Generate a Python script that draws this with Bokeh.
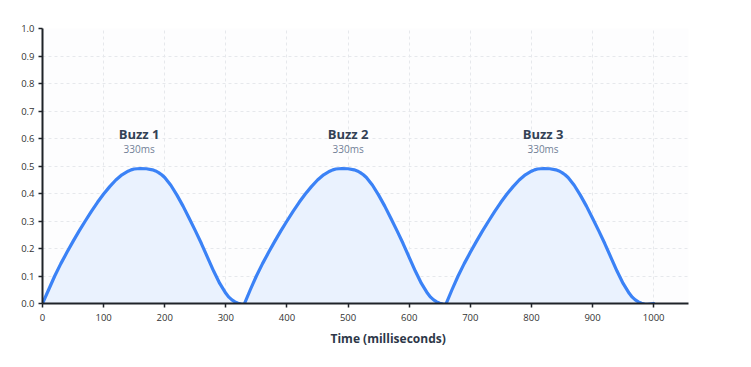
from bokeh.plotting import figure
from bokeh.models import Range1d, FixedTicker, Title, ColumnDataSource, NumeralTickFormatter
from bokeh.core.properties import value
from bokeh.embed import file_html
from bokeh.resources import INLINE

# ---- data ----
buzz_names = ["Buzz 1", "Buzz 2", "Buzz 3"]
buzz_durations = ["330ms", "330ms", "330ms"]
buzz_starts = [0, 330, 660]
buzz_label_x = [158, 500, 819]

# one buzz envelope (ms offset -> amplitude)
profile_t = [0, 10, 20, 30, 40, 50, 60, 70, 80, 90, 100, 110, 120, 130, 140, 145, 150,
             160, 170, 180, 185, 190, 195, 200, 210, 220, 230, 240, 250, 260, 270, 280,
             290, 300, 305, 310, 315, 320, 325, 330]
profile_v = [0.0, 0.05, 0.10, 0.145, 0.186, 0.226, 0.264, 0.30, 0.335, 0.368, 0.398,
             0.425, 0.449, 0.468, 0.481, 0.486, 0.489, 0.491, 0.49, 0.486, 0.482, 0.476,
             0.468, 0.458, 0.43, 0.394, 0.354, 0.31, 0.265, 0.218, 0.168, 0.118, 0.073,
             0.037, 0.023, 0.013, 0.006, 0.001, -0.002, -0.003]
tail_t = [1000]
tail_v = [0.0]

x_ticks = [0, 100, 200, 300, 400, 500, 600, 700, 800, 900, 1000]
y_ticks = [0.0, 0.1, 0.2, 0.3, 0.4, 0.5, 0.6, 0.7, 0.8, 0.9, 1.0]
x_title = "Time (milliseconds)"

# ---- build series ----
ts, vs = [], []
for s in buzz_starts:
    for t, v in zip(profile_t, profile_v):
        if ts and s + t <= ts[-1]:
            continue
        ts.append(s + t)
        vs.append(v)
ts += tail_t
vs += tail_v
src = ColumnDataSource(dict(t=ts, v=vs))

FONT = "Open Sans"

p = figure(width=735, height=351, output_backend="svg", toolbar_location=None,
           x_range=Range1d(0, 1057), y_range=Range1d(0, 1.0),
           min_border_left=42, min_border_right=47, min_border_top=28,
           min_border_bottom=48)
p.outline_line_color = None
p.background_fill_color = "#fdfdfe"
p.border_fill_color = "#ffffff"

p.varea(x="t", y1=0, y2="v", source=src, fill_color="#eaf2fe", fill_alpha=1.0)
p.line(x="t", y="v", source=src, line_color="#3b82f6", line_width=3.2,
       line_join="round", line_cap="round")

lab = ColumnDataSource(dict(x=buzz_label_x, name=buzz_names, dur=buzz_durations,
                            y1=[0.618] * 3, y2=[0.561] * 3))
p.text(x="x", y="y1", text="name", source=lab, text_align="center",
       text_baseline="alphabetic", text_font=value(FONT), text_font_size="13px",
       text_font_style="bold", text_color="#334155")
p.text(x="x", y="y2", text="dur", source=lab, text_align="center",
       text_baseline="alphabetic", text_font=value(FONT), text_font_size="10px",
       text_color="#718096")

for ax in (p.xaxis[0], p.yaxis[0]):
    ax.axis_line_color = "#1f2328"
    ax.axis_line_width = 2
    ax.major_tick_line_color = "#1f2328"
    ax.major_tick_line_width = 1.5
    ax.major_tick_out = 4
    ax.major_tick_in = 0
    ax.minor_tick_line_color = None
    ax.major_label_text_font = FONT
    ax.major_label_text_font_size = "9.5px"
    ax.major_label_text_color = "#333333"

p.xaxis.ticker = FixedTicker(ticks=x_ticks)
p.yaxis.ticker = FixedTicker(ticks=y_ticks)
p.yaxis.formatter = NumeralTickFormatter(format="0.0")
p.xaxis.major_label_standoff = 6
p.yaxis.major_label_standoff = 4

p.xgrid.ticker = FixedTicker(ticks=x_ticks)
p.ygrid.ticker = FixedTicker(ticks=y_ticks)
for g in (p.xgrid[0], p.ygrid[0]):
    g.grid_line_color = "#e6e8ec"
    g.grid_line_dash = "3 3"
    g.grid_line_width = 1

p.add_layout(Title(text=x_title, align="left", offset=288, standoff=8,
                   vertical_align="bottom", text_font=FONT,
                   text_font_size="12px", text_font_style="bold",
                   text_color="#2d3748"), "below")

open("out.html", "w").write(file_html(p, INLINE))
